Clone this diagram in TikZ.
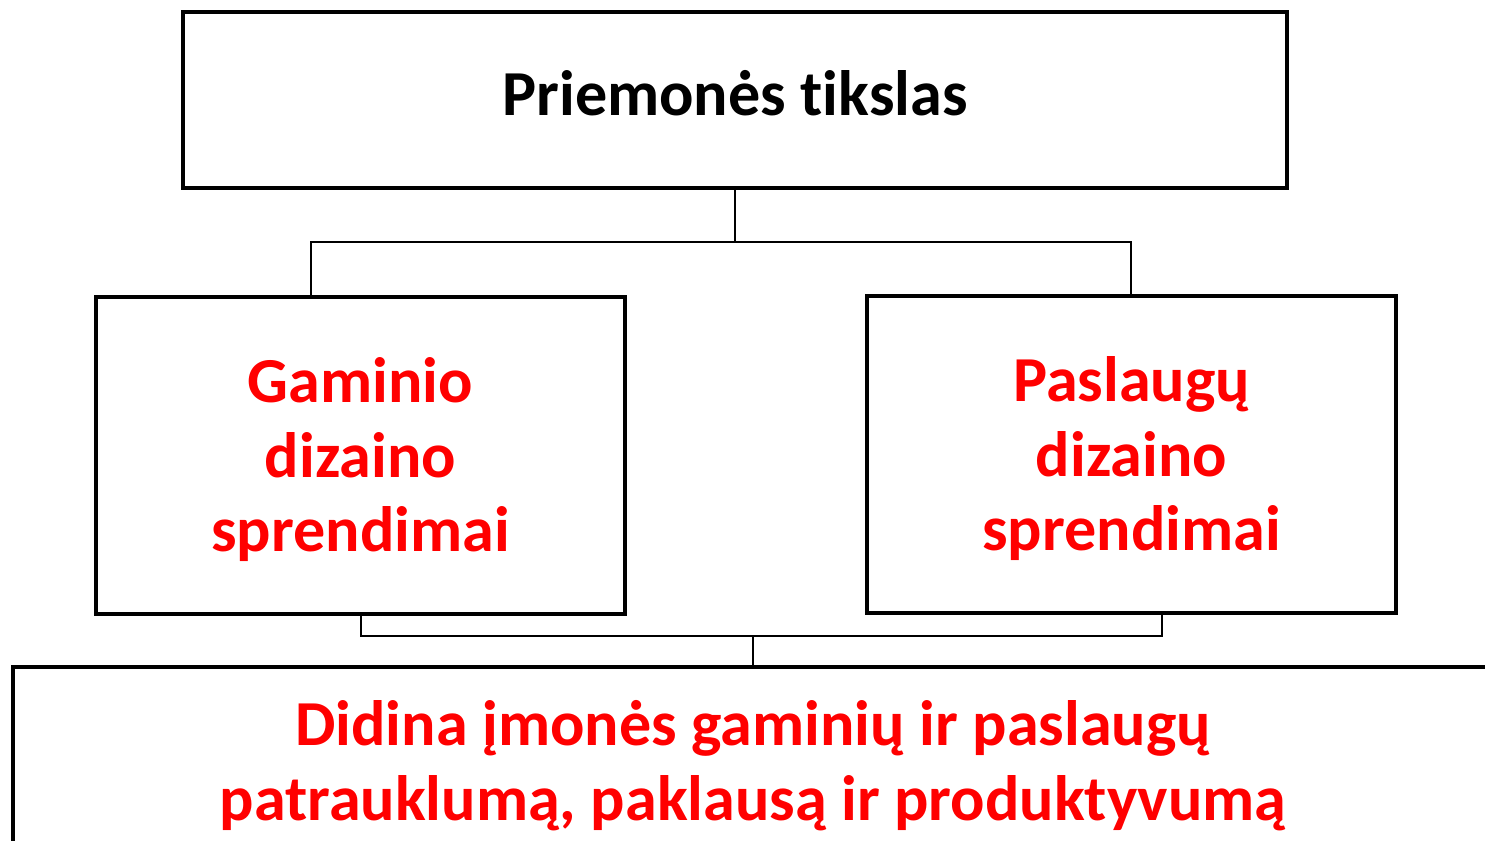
\documentclass[tikz,border=0pt]{standalone}
\usepackage{fontspec}
\setmainfont{Carlito}[Ligatures=NoCommon]
\usetikzlibrary{positioning}

\begin{document}
\begin{tikzpicture} [
       x=0.02cm, y=-0.02cm,
       box/.style={draw, line width=2.3pt, inner sep=0pt, align=center,
               font=\fontsize{36.5}{42.5}\selectfont\bfseries},
       goal/.style={box, text=black, text depth=8pt, minimum width=22.08cm, minimum height=3.52cm},
       design/.style={box, text=red, text depth=1pt, minimum width=10.58cm, minimum height=6.34cm},
       effect/.style={box, text=red, minimum width=29.6cm, minimum height=3.96cm, anchor=north},
        line/.style     = { draw, line width=0.85pt },
       ]
       \clip (0,0) rectangle (1485,840);
       \node (tikslas) [goal] at (735,100) {Priemonės tikslas};
       \node (gaminio) [design] at (360.5,455.5) {Gaminio\\dizaino\\sprendimai};
       \node (paslaugu) [design] at (1131.5,454.5) {Paslaugų\\dizaino\\sprendimai};
       \node (rezultatas) [effect] at (753,665) {Didina įmonės gaminių ir paslaugų\\patrauklumą, paklausą ir produktyvumą};
       \coordinate (upL) at (311,242);
       \coordinate (upR) at (1131,242);
       \coordinate (dnL) at (361,636);
       \coordinate (dnR) at (1162,636);
        \begin{scope}[every path/.style=line]
        \path (tikslas.south) -- (tikslas.south |- upL);
        \path (upL |- gaminio.north) -- (upL) -- (upR) -- (upR |- paslaugu.north);
        \path (dnL |- gaminio.south) -- (dnL) -- (dnR) -- (dnR |- paslaugu.south);
        \path (rezultatas.north |- dnL) -- (rezultatas.north);
\end{scope}
\end{tikzpicture}
\end{document}
